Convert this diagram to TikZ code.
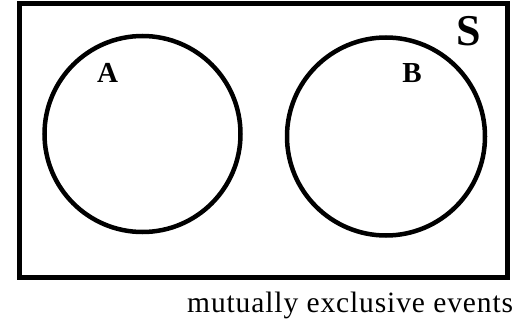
\documentclass[tikz,border=0pt]{standalone}
\usepackage{fontspec}
\setmainfont{Liberation Serif}
\newfontfamily\spacedfont[LetterSpace=3]{Liberation Serif}

\begin{document}
\begin{tikzpicture}[
    x=1pt, y=-1pt,
    space/.style={draw=black, line width=5pt, inner sep=0pt,
                  minimum width=488pt, minimum height=274pt},
    event/.style={circle, draw=black, line width=4.5pt, inner sep=0pt},
    setlabel/.style={anchor=base, font=\bfseries\fontsize{29}{31}\selectfont, inner sep=0pt}
]
\useasboundingbox (0,0) rectangle (514,324);

% Sample space
\node[space] (S) at (263,140) {};
\node[anchor=base, font=\bfseries\fontsize{44}{46}\selectfont, inner sep=0pt]
    (Slabel) at (468.5,45) {S};

% Events
\node[event, minimum size=196pt] (A) at (142.5,134) {};
\node[event, minimum size=198pt] (B) at (386,136.5) {};
\node[setlabel] (Alabel) at (107.5,82) {A};
\node[setlabel] (Blabel) at (412,82) {B};

% Caption
\node[anchor=base west, inner sep=0pt, font=\spacedfont\fontsize{29.5}{32}\selectfont]
    (caption) at (187,312) {mutually exclusive events};

\end{tikzpicture}
\end{document}
